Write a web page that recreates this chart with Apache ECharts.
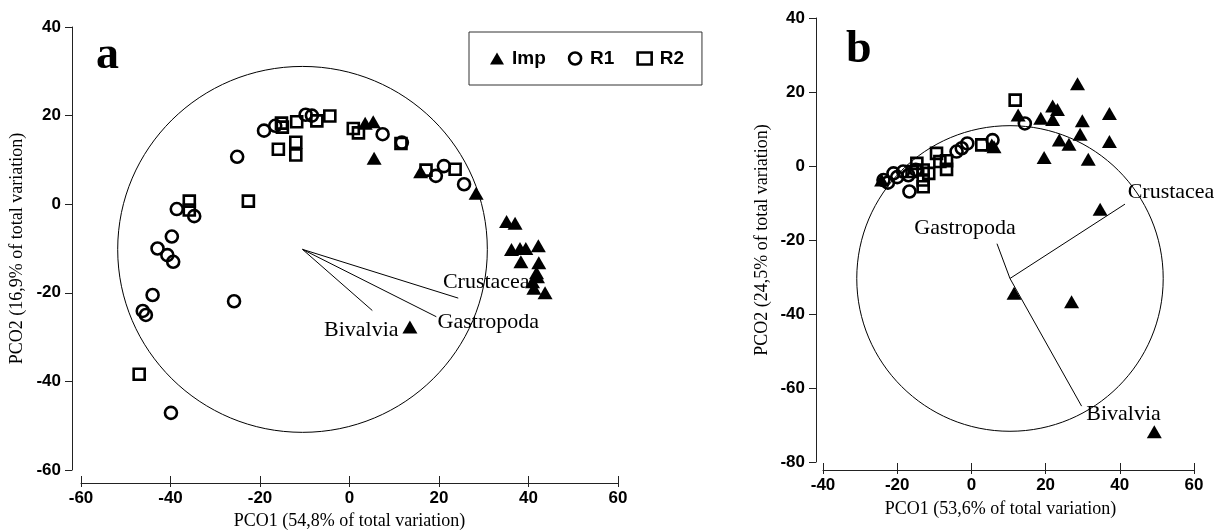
<!DOCTYPE html>
<html>
<head>
<meta charset="utf-8">
<script src="https://cdn.jsdelivr.net/npm/echarts@6/dist/echarts.min.js"></script>
<style>
  html, body { margin: 0; padding: 0; background: #fff; }
  #chart { width: 1227px; height: 530px; }
</style>
</head>
<body>
<div id="chart"></div>
<script>
// ---- Panel a: PCO scores by site group ----
const impA = [
  [3.5, 18.3], [5.3, 18.6], [5.5, 10.4], [15.9, 7.3], [28.3, 2.5],
  [35.1, -3.9], [37.0, -4.3], [36.2, -10.2], [38.1, -10.0], [39.4, -10.0], [42.2, -9.4],
  [38.3, -13.0], [42.3, -13.2], [41.8, -15.5], [42.0, -16.4], [40.9, -17.5], [41.2, -19.0],
  [43.7, -20.0], [13.5, -27.7]
];
const r1A = [
  [-19.1, 16.6], [-16.6, 17.7], [-9.8, 20.2], [-8.4, 20.0], [-25.1, 10.7],
  [7.4, 15.8], [11.7, 13.9], [19.3, 6.4], [21.1, 8.6], [25.6, 4.5],
  [-38.6, -1.1], [-34.7, -2.7], [-39.7, -7.3], [-42.9, -10.0], [-40.7, -11.5], [-39.4, -13.0],
  [-44.0, -20.5], [-46.2, -24.1], [-45.5, -25.0], [-25.8, -21.9], [-39.9, -47.1]
];
const r2A = [
  [-15.2, 18.3], [-15.0, 17.4], [-11.8, 18.6], [-7.3, 18.8], [-4.4, 19.9],
  [-15.9, 12.4], [-12.0, 14.0], [-12.0, 11.1],
  [-35.8, 0.7], [-35.8, -1.3], [-22.6, 0.7],
  [0.85, 17.1], [2.0, 16.1], [11.5, 13.7], [17.1, 7.7], [23.6, 7.9],
  [-47.0, -38.4]
];
// correlation vectors (origin, tips) and circle radius
const originA = [-10.5, -10.2];
const vecNamesA = ['Crustacea', 'Gastropoda', 'Bivalvia'];
const vecEndsA = [[24.3, -21.2], [19.4, -25.4], [5.1, -24.0]];
const radiusA = 41.3;

// ---- Panel b ----
const impB = [
  [28.6, 22.2], [21.9, 16.2], [23.2, 15.3], [37.2, 14.2], [18.7, 12.9], [21.9, 12.6], [29.9, 12.2],
  [12.6, 13.8], [29.3, 8.6], [23.7, 7.0], [26.3, 5.9], [37.2, 6.6], [19.6, 2.3], [31.5, 1.8],
  [5.5, 5.7], [6.1, 5.2], [34.7, -11.7], [11.5, -34.4], [27.0, -36.7], [49.3, -71.8], [-24.2, -3.8]
];
const r1B = [
  [14.4, 11.5], [5.7, 7.0], [-1.1, 6.1], [-2.6, 4.8], [-4.0, 3.9], [-16.7, -6.9],
  [-23.7, -3.8], [-22.5, -4.5], [-21.0, -2.0], [-18.4, -1.5], [-20.0, -3.0], [-17.0, -2.5], [-15.0, -1.0]
];
const r2B = [
  [11.8, 17.8], [2.8, 5.7], [-9.4, 3.4], [-6.7, 1.4], [-6.7, -0.9], [-8.5, 1.2],
  [-13.0, -1.1], [-13.0, -3.8], [-13.0, -5.6], [-14.7, 0.7], [-16.0, -1.5], [-11.5, -2.0]
];
const originB = [10.4, -30.4];
const vecNamesB = ['Crustacea', 'Gastropoda', 'Bivalvia'];
const vecEndsB = [[41.4, -10.3], [6.9, -21.0], [29.7, -64.9]];
const radiusB = 41.3;

// axis titles
const xTitleA = 'PCO1 (54,8% of total variation)';
const yTitleA = 'PCO2 (16,9% of total variation)';
const xTitleB = 'PCO1 (53,6% of total variation)';
const yTitleB = 'PCO2 (24,5% of total variation)';

// ---- styling ----
const SERIF = '"Liberation Serif", "Times New Roman", serif';
const SANS = '"Liberation Sans", Arial, sans-serif';
const INK = '#000';
const AXIS = '#222';

// pixel offsets of the vector captions from each vector tip
const labelOffsetA = { Crustacea: [28, -16], Gastropoda: [52, 5], Bivalvia: [-11, 20] };
const labelOffsetB = { Crustacea: [46, -12], Gastropoda: [-32, -15], Bivalvia: [42, 8] };

const markerStyle = {
  Imp: { symbol: 'triangle', symbolSize: [15, 13], itemStyle: { color: INK, borderWidth: 0, opacity: 1 } },
  R1: { symbol: 'circle', symbolSize: 12, itemStyle: { color: 'rgba(0,0,0,0)', borderColor: INK, borderWidth: 2.6, opacity: 1 } },
  R2: { symbol: 'rect', symbolSize: 11, itemStyle: { color: 'rgba(0,0,0,0)', borderColor: INK, borderWidth: 2.6, opacity: 1 } }
};

function valueAxis(gridIndex, min, max, offset, extra) {
  return Object.assign({
    type: 'value', gridIndex, min, max, interval: 20, offset,
    splitLine: { show: false },
    axisLine: { show: true, onZero: false, lineStyle: { color: AXIS, width: 1 } },
    axisTick: { show: true, inside: false, length: 7, lineStyle: { color: AXIS, width: 1 } },
    axisLabel: { color: INK, fontFamily: SANS, fontWeight: 'bold', fontSize: 17, margin: 11 }
  }, extra || {});
}

// a second x axis carrying only inward ticks, so the ticks cross the axis line
function innerTickAxis(gridIndex, min, max, offset) {
  return {
    type: 'value', gridIndex, min, max, interval: 20, offset, position: 'bottom',
    splitLine: { show: false },
    axisLine: { show: false, onZero: false },
    axisLabel: { show: false },
    axisTick: { show: true, inside: true, length: 7, lineStyle: { color: AXIS, width: 1 } }
  };
}

function scatterSeries(name, data, xi, yi) {
  const m = markerStyle[name];
  return {
    type: 'scatter', name, data, xAxisIndex: xi, yAxisIndex: yi,
    symbol: m.symbol, symbolSize: m.symbolSize, itemStyle: m.itemStyle,
    z: 5, silent: true
  };
}

function circleSeries(origin, radius, xi, yi) {
  return {
    type: 'custom', xAxisIndex: xi, yAxisIndex: yi, silent: true, z: 2,
    data: [[origin[0], origin[1], radius]],
    renderItem: function (params, api) {
      const c = api.coord([api.value(0), api.value(1)]);
      const s = api.size([api.value(2), api.value(2)]);
      return {
        type: 'ellipse',
        shape: { cx: c[0], cy: c[1], rx: s[0], ry: s[1] },
        style: { fill: 'none', stroke: INK, lineWidth: 1 }
      };
    }
  };
}

function vectorSeries(origin, ends, xi, yi) {
  return {
    type: 'custom', xAxisIndex: xi, yAxisIndex: yi, silent: true, z: 3,
    data: ends.map(e => [origin[0], origin[1], e[0], e[1]]),
    renderItem: function (params, api) {
      const p0 = api.coord([api.value(0), api.value(1)]);
      const p1 = api.coord([api.value(2), api.value(3)]);
      return {
        type: 'line',
        shape: { x1: p0[0], y1: p0[1], x2: p1[0], y2: p1[1] },
        style: { stroke: INK, lineWidth: 1 }
      };
    }
  };
}

function vectorLabelSeries(names, ends, offsets, xi, yi) {
  return {
    type: 'scatter', xAxisIndex: xi, yAxisIndex: yi, silent: true, z: 6,
    symbolSize: 0,
    itemStyle: { opacity: 1 },
    data: names.map((n, i) => ({
      name: n, value: ends[i],
      label: { offset: offsets[n] }
    })),
    label: {
      show: true, position: 'inside', formatter: '{b}',
      color: INK, fontFamily: SERIF, fontSize: 22, opacity: 1
    }
  };
}

const chart = echarts.init(document.getElementById('chart'), null, { renderer: 'canvas' });

chart.setOption({
  backgroundColor: '#fff',
  animation: false,
  grid: [
    { left: 81, top: 27, width: 537, height: 443, containLabel: false, outerBoundsMode: 'none' },
    { left: 823, top: 18, width: 371, height: 444, containLabel: false, outerBoundsMode: 'none' }
  ],
  xAxis: [
    valueAxis(0, -60, 60, 13, {
      axisTick: { show: true, inside: false, length: 4, lineStyle: { color: AXIS, width: 1 } },
      axisLabel: { color: INK, fontFamily: SANS, fontWeight: 'bold', fontSize: 17, margin: 7 },
      name: xTitleA, nameLocation: 'middle', nameGap: 28,
      nameTextStyle: { color: INK, fontFamily: SERIF, fontSize: 18 }
    }),
    innerTickAxis(0, -60, 60, 13),
    valueAxis(1, -40, 60, 8, {
      axisTick: { show: true, inside: false, length: 4, lineStyle: { color: AXIS, width: 1 } },
      axisLabel: { color: INK, fontFamily: SANS, fontWeight: 'bold', fontSize: 17, margin: 7 },
      name: xTitleB, nameLocation: 'middle', nameGap: 30,
      nameTextStyle: { color: INK, fontFamily: SERIF, fontSize: 18, padding: [0, 16, 0, 0] }
    }),
    innerTickAxis(1, -40, 60, 8)
  ],
  yAxis: [
    valueAxis(0, -60, 40, 9, {
      name: yTitleA, nameLocation: 'middle', nameGap: 46, nameRotate: 90,
      nameTextStyle: { color: INK, fontFamily: SERIF, fontSize: 18 }
    }),
    valueAxis(1, -80, 40, 7, {
      name: yTitleB, nameLocation: 'middle', nameGap: 45, nameRotate: 90,
      nameTextStyle: { color: INK, fontFamily: SERIF, fontSize: 18 }
    })
  ],
  legend: {
    left: 469, top: 32,
    orient: 'horizontal',
    data: [
      { name: 'Imp', icon: 'triangle', itemStyle: { color: INK, borderWidth: 0 } },
      { name: 'R1', icon: 'circle', itemStyle: { color: 'rgba(0,0,0,0)', borderColor: INK, borderWidth: 2.6 } },
      { name: 'R2', icon: 'rect', itemStyle: { color: 'rgba(0,0,0,0)', borderColor: INK, borderWidth: 2.6 } }
    ],
    itemWidth: 14, itemHeight: 12, itemGap: 22,
    padding: [17, 18, 17, 21],
    borderColor: '#333', borderWidth: 1, borderRadius: 0,
    selectedMode: false,
    textStyle: { color: INK, fontFamily: SANS, fontWeight: 'bold', fontSize: 19, padding: [0, 0, 0, 3] }
  },
  graphic: [
    { type: 'text', left: 96, top: 33, silent: true,
      style: { text: 'a', fill: INK, font: 'bold 46px ' + SERIF } },
    { type: 'text', left: 846, top: 27, silent: true,
      style: { text: 'b', fill: INK, font: 'bold 46px ' + SERIF } }
  ],
  series: [
    circleSeries(originA, radiusA, 0, 0),
    vectorSeries(originA, vecEndsA, 0, 0),
    vectorLabelSeries(vecNamesA, vecEndsA, labelOffsetA, 0, 0),
    scatterSeries('Imp', impA, 0, 0),
    scatterSeries('R1', r1A, 0, 0),
    scatterSeries('R2', r2A, 0, 0),

    circleSeries(originB, radiusB, 2, 1),
    vectorSeries(originB, vecEndsB, 2, 1),
    vectorLabelSeries(vecNamesB, vecEndsB, labelOffsetB, 2, 1),
    scatterSeries('Imp', impB, 2, 1),
    scatterSeries('R1', r1B, 2, 1),
    scatterSeries('R2', r2B, 2, 1)
  ]
});
</script>
</body>
</html>
